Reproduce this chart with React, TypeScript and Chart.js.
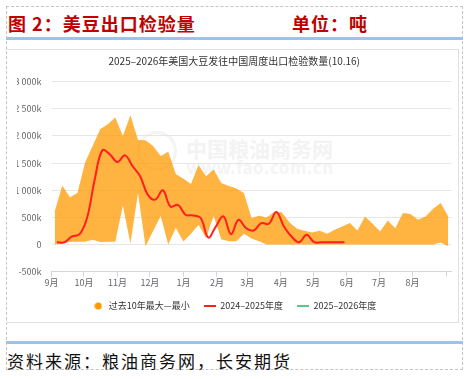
import React, { useEffect, useRef } from 'react';
import { Chart, registerables } from 'chart.js';

Chart.register(...registerables);

// ---- data (thousand tonnes) ----
const MONTH_TICK_DAYS = [0, 30, 61, 91, 122, 153, 181, 212, 242, 273, 303, 334, 365];
const MONTH_LABELS = ['9月', '10月', '11月', '12月', '1月', '2月', '3月', '4月', '5月', '6月', '7月', '8月', ''];

const BAND_FIRST_DAY = 3;
const LINE_FIRST_DAY = 5;
const WEEK_DAYS = 7;

const tenYearMax = [
  611, 1087, 870, 950, 1506, 1815, 2124, 2217, 2340, 2000, 2383, 1926, 1920, 1815, 1630, 1710,
  1300, 1210, 1117, 1463, 1259, 1383, 1136, 1080, 1031, 950, 487, 531, 500, 600, 593, 410,
  290, 253, 222, 253, 198, 272, 333, 395, 259, 518, 383, 240, 444, 302, 580, 561, 457, 518,
  661, 765, 518,
];
const tenYearMin = [
  0, 20, 50, 50, 50, 90, 45, 50, 50, 720, 20, 950, -30, 250, 525, 0, 310, 55, 200, 365, 117,
  530, 100, 60, 60, 200, 110, 60, 0, 0, 0, 0, 0, 0, 0, 0, 0, 0, 0, 0, 0, 0, 0, 0, 0, 0, 0, 0,
  0, 0, 0, 40, -30,
];
const season2425 = [
  43, 43, 150, 191, 500, 1200, 1735, 1661, 1519, 1643, 1444, 1259, 920, 828, 1000, 700, 730,
  550, 537, 490, 130, 330, 518, 191, 457, 302, 259, 395, 383, 598, 333, 148, 43, 179, 43, 43,
  43, 43, 43,
];
const season2526: number[] = [];

const CHART_TITLE = '2025–2026年美国大豆发往中国周度出口检验数量(10.16)';
const SERIES_NAMES = ['过去10年最大—最小', '2024–2025年度', '2025–2026年度'];

const RED = '#ff1f1f';
const GREEN = '#63c38f';
const ORANGE = '#ff9900';
const BAND = 'rgba(255,153,0,0.75)';
const FONT = '"Noto Sans CJK SC", "Noto Sans", sans-serif';

function fmtK(v: number) {
  if (v === 0) return '0';
  const a = Math.abs(v);
  const s = a >= 1000 ? `${Math.floor(a / 1000)} ${String(a % 1000).padStart(3, '0')}` : String(a);
  return (v < 0 ? '-' : '') + s + 'k';
}

export default function App() {
  const ref = useRef<HTMLCanvasElement>(null);

  useEffect(() => {
    document.body.style.margin = '0';
    const canvas = ref.current!;
    const mk = (w: number, h: number, draw: (g: CanvasRenderingContext2D) => void) => {
      const c = document.createElement('canvas');
      c.width = w;
      c.height = h;
      draw(c.getContext('2d')!);
      return c;
    };
    const dot = mk(8, 8, (g) => {
      g.fillStyle = ORANGE;
      g.beginPath();
      g.arc(4, 4, 3.6, 0, Math.PI * 2);
      g.fill();
    });
    const redMark = mk(12, 2, (g) => {
      g.fillStyle = RED;
      g.fillRect(0, 0, 12, 2);
    });
    const greenMark = mk(12, 2, (g) => {
      g.fillStyle = GREEN;
      g.fillRect(0, 0, 12, 2);
    });

    Chart.defaults.font.family = FONT;

    const chart = new Chart(canvas, {
      type: 'line',
      data: {
        datasets: [
          {
            label: SERIES_NAMES[1],
            data: season2425.map((v, i) => ({ x: LINE_FIRST_DAY + WEEK_DAYS * i, y: v })),
            borderColor: RED,
            borderWidth: 2,
            pointRadius: 0,
            tension: 0.4,
            fill: false,
            order: 0,
          },
          {
            label: SERIES_NAMES[2],
            data: season2526.map((v, i) => ({ x: LINE_FIRST_DAY + WEEK_DAYS * i, y: v })),
            borderColor: GREEN,
            borderWidth: 2,
            pointRadius: 0,
            tension: 0.4,
            fill: false,
            order: 1,
          },
          {
            label: SERIES_NAMES[0],
            data: tenYearMax.map((v, i) => ({ x: BAND_FIRST_DAY + WEEK_DAYS * i, y: v })),
            borderWidth: 0,
            borderColor: 'rgba(0,0,0,0)',
            backgroundColor: BAND,
            pointRadius: 0,
            tension: 0,
            fill: '+1',
            order: 2,
          },
          {
            label: 'min',
            data: tenYearMin.map((v, i) => ({ x: BAND_FIRST_DAY + WEEK_DAYS * i, y: v })),
            borderWidth: 0,
            borderColor: 'rgba(0,0,0,0)',
            pointRadius: 0,
            tension: 0,
            fill: false,
            order: 3,
          },
        ],
      },
      options: {
        responsive: false,
        animation: false,
        devicePixelRatio: 1,
        layout: { padding: { left: 10, right: 6.5, top: 0, bottom: 1.5 } },
        plugins: {
          filler: { drawTime: 'beforeDatasetsDraw' },
          title: {
            display: true,
            text: CHART_TITLE,
            color: '#333',
            font: { size: 10, weight: 'normal', family: FONT },
            padding: { top: 5, bottom: 14.7 },
          },
          legend: {
            position: 'bottom',
            labels: {
              usePointStyle: true,
              pointStyleWidth: 12,
              boxHeight: 8,
              padding: 14,
              color: '#333',
              font: { size: 9, family: FONT },
              generateLabels: () => [
                { text: SERIES_NAMES[0], fillStyle: ORANGE, strokeStyle: ORANGE, lineWidth: 0, pointStyle: dot as any, hidden: false, datasetIndex: 2, fontColor: '#333' },
                { text: SERIES_NAMES[1], fillStyle: RED, strokeStyle: RED, lineWidth: 0, pointStyle: redMark as any, hidden: false, datasetIndex: 0, fontColor: '#333' },
                { text: SERIES_NAMES[2], fillStyle: GREEN, strokeStyle: GREEN, lineWidth: 0, pointStyle: greenMark as any, hidden: false, datasetIndex: 1, fontColor: '#333' },
              ],
            },
          },
          tooltip: { enabled: false },
        },
        scales: {
          x: {
            type: 'linear',
            min: 0,
            max: 370,
            afterBuildTicks: (s: any) => {
              s.ticks = MONTH_TICK_DAYS.map((v) => ({ value: v }));
            },
            ticks: {
              autoSkip: false,
              maxRotation: 0,
              padding: 0,
              color: '#666',
              font: { size: 9, family: FONT },
              callback: (_v: any, i: number) => MONTH_LABELS[i] ?? '',
            },
            grid: { drawOnChartArea: false, drawTicks: true, tickLength: 5, color: '#ccd6eb', tickColor: '#ccd6eb' },
            border: { display: true, color: '#ccd6eb' },
          },
          y: {
            min: -500,
            max: 3000,
            ticks: {
              stepSize: 500,
              padding: 10,
              color: '#666',
              font: { size: 9, family: FONT },
              callback: (v: any) => fmtK(Number(v)),
            },
            grid: { color: '#e6e6e6', drawTicks: false },
            border: { display: false },
            afterFit: (s: any) => {
              s.width = 34.5;
            },
          },
        },
      } as any,
    });
    return () => chart.destroy();
  }, []);

  return (
    <div style={{ position: 'relative', width: 468, height: 379, background: '#fff', fontFamily: FONT, overflow: 'hidden' }}>
      <div style={{ position: 'absolute', left: 6, top: 6, width: 457, height: 364, border: '1px dashed #c4c4c4', boxSizing: 'border-box' }} />
      <div style={{ position: 'absolute', left: 8, top: 14, lineHeight: '18px', fontSize: 18, fontWeight: 700, color: '#c00000', letterSpacing: 1, whiteSpace: 'nowrap' }}>
        图 2：美豆出口检验量
      </div>
      <div style={{ position: 'absolute', left: 292, top: 14, lineHeight: '18px', fontSize: 18, fontWeight: 700, color: '#c00000', letterSpacing: 1, whiteSpace: 'nowrap' }}>
        单位：吨
      </div>
      <div style={{ position: 'absolute', left: 6, top: 37, width: 457, height: 3, background: '#9dc3e6' }} />
      <div style={{ position: 'absolute', left: 6, top: 49, width: 453, height: 274, border: '1px solid #e0e0e0', borderLeft: 'none', boxSizing: 'border-box' }} />
      <div style={{ position: 'absolute', left: 186, top: 137, fontSize: 21, fontWeight: 700, color: '#f3f3f3', whiteSpace: 'nowrap', lineHeight: '22px' }}>
        中国粮油商务网
      </div>
      <div style={{ position: 'absolute', left: 186, top: 158, fontSize: 17, fontWeight: 700, color: '#f4f4f4', whiteSpace: 'nowrap', lineHeight: '18px', letterSpacing: 0.5 }}>
        www.fao.com.cn
      </div>
      <div style={{ position: 'absolute', left: 137, top: 131, width: 40, height: 40, borderRadius: '50%', border: '3px solid #f4f4f4', boxSizing: 'border-box' }} />
      <canvas ref={ref} width={451} height={272} style={{ position: 'absolute', left: 7, top: 50, width: 451, height: 272 }} />
      <div style={{ position: 'absolute', left: 6, top: 341, width: 457, height: 3, background: '#9dc3e6' }} />
      <div style={{ position: 'absolute', left: 7, top: 352, lineHeight: '17px', fontSize: 17, color: '#111', letterSpacing: 2, whiteSpace: 'nowrap' }}>
        资料来源：粮油商务网，长安期货
      </div>
    </div>
  );
}
